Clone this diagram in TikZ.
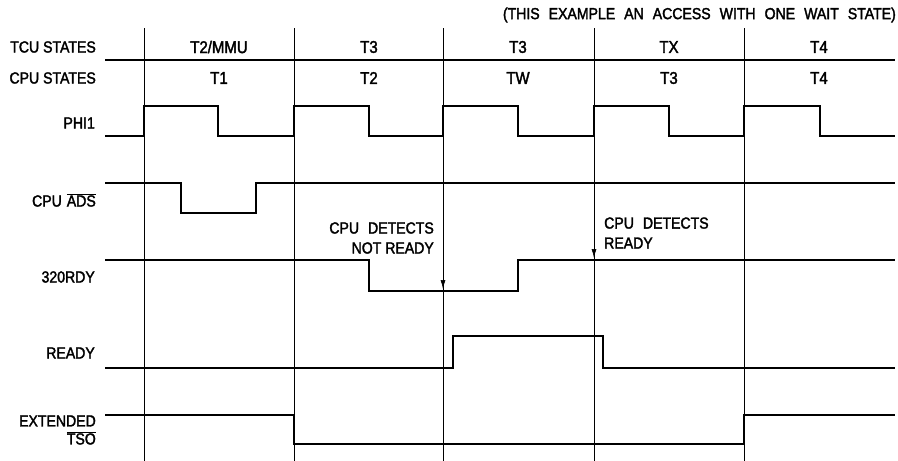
\documentclass[tikz,border=0pt]{standalone}
\usepackage{fontspec}
\setmainfont{Liberation Sans}[FakeStretch=0.88,FakeBold=2]
\usetikzlibrary{arrows.meta}
\newcommand\widewords{\setlength{\spaceskip}{9pt plus 1pt}}
\begin{document}
\begin{tikzpicture}[x=1pt,y=-1pt,
  sig/.style={line width=2.6pt,line join=miter,line cap=butt},
  grid/.style={line width=0.7pt},
  lbl/.style={anchor=east,font=\fontsize{16}{18}\selectfont,inner sep=0pt},
  st/.style={font=\fontsize{17}{18}\selectfont,inner sep=0pt},
  wide/.style={font=\fontsize{16}{20}\selectfont,inner sep=0pt},
  tip/.style={-{Latex[length=9pt,width=5pt]},line width=0.7pt}]
\useasboundingbox (0,0) rectangle (898,461);
% grid lines
\foreach \x in {144,294,443,594,744} \draw[grid] (\x,28) -- (\x,461);
% title
\node[wide,anchor=east] (title) at (896,15) {\widewords(THIS EXAMPLE AN ACCESS WITH ONE WAIT STATE)};
% TCU states
\node[lbl] (tcu) at (96,47) {TCU STATES};
\draw[sig] (105,60) -- (895,60);
\node[st] (s1) at (219,47) {T2/MMU};
\node[st] (s2) at (369,47) {T3};
\node[st] (s3) at (518,47) {T3};
\node[st] (s4) at (669,47) {TX};
\node[st] (s5) at (819,47) {T4};
% CPU states
\node[lbl] (cpu) at (96,78) {CPU STATES};
\node[st] (c1) at (219,78) {T1};
\node[st] (c2) at (369,78) {T2};
\node[st] (c3) at (518,78) {TW};
\node[st] (c4) at (669,78) {T3};
\node[st] (c5) at (819,78) {T4};
% PHI1
\node[lbl] (phi) at (95,123) {PHI1};
\draw[sig] (105,136) -- (144,136) -- (144,106) -- (218,106) -- (218,136)
  -- (294,136) -- (294,106) -- (369,106) -- (369,136)
  -- (443,136) -- (443,106) -- (518,106) -- (518,136)
  -- (594,136) -- (594,106) -- (669,106) -- (669,136)
  -- (744,136) -- (744,106) -- (820,106) -- (820,136) -- (895,136);
% CPU ADS
\node[lbl] (ads) at (96,200) {CPU\hspace{5pt}$\overline{\mbox{ADS}}$};
\draw[sig] (105,183) -- (181,183) -- (181,213) -- (256,213) -- (256,183) -- (895,183);
% 320RDY
\node[lbl] (rdy) at (95,277) {320RDY};
\draw[sig] (105,260) -- (369,260) -- (369,291) -- (518,291) -- (518,260) -- (895,260);
\node[wide,anchor=east,align=right] (nr) at (434,238) {\widewords CPU DETECTS\\NOT READY};
\node[wide,anchor=west,align=left] (r) at (604,233) {\widewords CPU DETECTS\\READY};
\coordinate (a1s) at (443,270);
\coordinate (a1e) at (443,289);
\coordinate (a2s) at (594,240);
\coordinate (a2e) at (594,258);
\draw[tip] (a1s) -- (a1e);
\draw[tip] (a2s) -- (a2e);
% READY
\node[lbl] (ready) at (95,353) {READY};
\draw[sig] (105,368) -- (453,368) -- (453,336) -- (603,336) -- (603,368) -- (895,368);
% EXTENDED TSO
\node[lbl,align=right] (tso) at (96,430) {EXTENDED\\$\overline{\mbox{TSO}}$};
\draw[sig] (105,415) -- (294,415) -- (294,444) -- (744,444) -- (744,415) -- (895,415);
\end{tikzpicture}
\end{document}
